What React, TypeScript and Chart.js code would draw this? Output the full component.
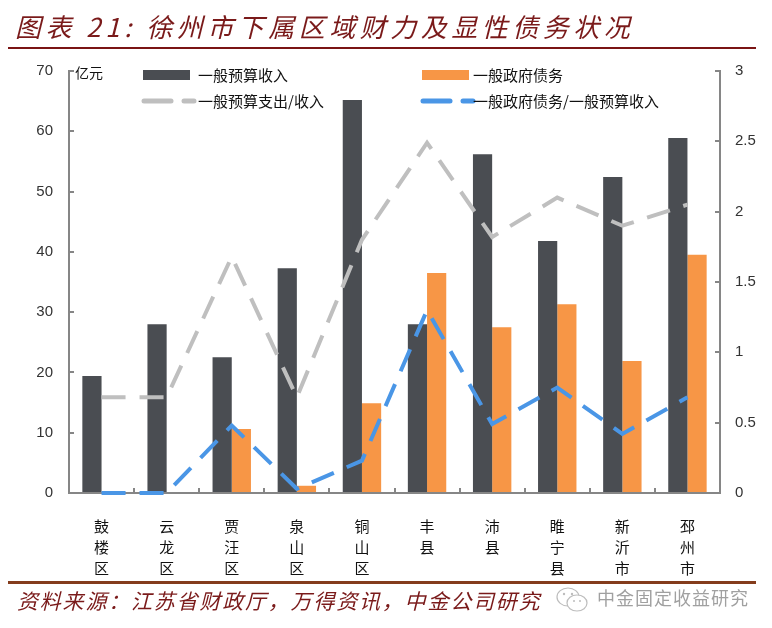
import React, { useEffect, useRef } from "react";
import { Chart, registerables } from "chart.js";

Chart.register(...registerables);

const categories = ["鼓楼区", "云龙区", "贾汪区", "泉山区", "铜山区", "丰县", "沛县", "睢宁县", "新沂市", "邳州市"];
const revenue = [19.4, 28.0, 22.5, 37.3, 65.2, 28.0, 56.2, 41.8, 52.4, 58.9];
const debt = [0, 0, 10.6, 1.2, 14.9, 36.5, 27.5, 31.3, 21.9, 39.5];
const expenditureRatio = [0.68, 0.68, 1.68, 0.68, 1.8, 2.49, 1.82, 2.1, 1.9, 2.05];
const debtRatio = [0, 0, 0.48, 0.03, 0.23, 1.3, 0.49, 0.75, 0.42, 0.68];
const leftTicks = [0, 10, 20, 30, 40, 50, 60, 70];
const rightTicks = [0, 0.5, 1, 1.5, 2, 2.5, 3];

const seriesNames = ["一般预算收入", "一般政府债务", "一般预算支出/收入", "一般政府债务/一般预算收入"];
const titleText = "图表 21: 徐州市下属区域财力及显性债务状况";
const sourceText = "资料来源：江苏省财政厅，万得资讯，中金公司研究";
const watermarkText = "中金固定收益研究";
const unitText = "亿元";

const DARK = "#4A4D52";
const ORANGE = "#F79646";
const GRAY = "#BFBFBF";
const BLUE = "#4A96E6";
const AXIS = "#868686";
const CJK = "'Noto Sans CJK SC', sans-serif";

export default function App() {
  const ref = useRef<HTMLCanvasElement>(null);

  useEffect(() => {
    if (!ref.current) return;
    const chart = new Chart(ref.current, {
      type: "bar",
      data: {
        labels: categories.map((c) => c.split("")),
        datasets: [
          {
            type: "line",
            label: seriesNames[2],
            data: expenditureRatio,
            borderColor: GRAY,
            borderWidth: 4,
            borderDash: [24, 14],
            pointRadius: 0,
            tension: 0,
            yAxisID: "y1",
            order: 0,
            clip: false,
          } as any,
          {
            type: "line",
            label: seriesNames[3],
            data: debtRatio,
            borderColor: BLUE,
            borderWidth: 4,
            borderDash: [24, 14],
            pointRadius: 0,
            tension: 0,
            yAxisID: "y1",
            order: 0,
            clip: false,
          } as any,
          {
            type: "bar",
            label: seriesNames[0],
            data: revenue,
            backgroundColor: DARK,
            yAxisID: "y",
            order: 1,
            categoryPercentage: 0.59,
            barPercentage: 1,
          },
          {
            type: "bar",
            label: seriesNames[1],
            data: debt,
            backgroundColor: ORANGE,
            yAxisID: "y",
            order: 1,
            categoryPercentage: 0.59,
            barPercentage: 1,
          },
        ],
      },
      options: {
        responsive: false,
        animation: false,
        devicePixelRatio: 1,
        layout: { padding: { top: 71, left: 0, right: 0, bottom: 0 } },
        plugins: { legend: { display: false }, tooltip: { enabled: false } },
        scales: {
          x: {
            grid: { drawOnChartArea: false, tickLength: -5, color: AXIS, lineWidth: 2, offset: true },
            border: { color: AXIS, width: 2 },
            ticks: {
              autoSkip: false,
              maxRotation: 0,
              minRotation: 0,
              padding: 28,
              color: "#111",
              font: { family: CJK, size: 15, lineHeight: "21px" as any },
            },
            afterFit: (s: any) => {
              s.height = 135;
            },
          },
          y: {
            position: "left",
            min: 0,
            max: 70,
            afterBuildTicks: (s: any) => {
              s.ticks = leftTicks.map((v) => ({ value: v }));
            },
            grid: { drawOnChartArea: false, tickLength: -5, color: AXIS, lineWidth: 2 },
            border: { color: AXIS, width: 2 },
            ticks: {
              padding: 21,
              color: "#333",
              font: { family: "'Liberation Sans', Arial, sans-serif", size: 15 },
            },
            afterFit: (s: any) => {
              s.width = 69;
            },
          },
          y1: {
            position: "right",
            min: 0,
            max: 3,
            afterBuildTicks: (s: any) => {
              s.ticks = rightTicks.map((v) => ({ value: v }));
            },
            grid: { drawOnChartArea: false, tickLength: -5, color: AXIS, lineWidth: 2 },
            border: { color: AXIS, width: 2 },
            ticks: {
              padding: 20,
              color: "#333",
              font: { family: "'Liberation Sans', Arial, sans-serif", size: 15 },
              callback: (v: any) => String(v),
            },
            afterFit: (s: any) => {
              s.width = 52;
            },
          },
        },
      },
    });
    return () => chart.destroy();
  }, []);

  const legendText: React.CSSProperties = {
    position: "absolute",
    fontFamily: CJK,
    fontSize: 15,
    color: "#111",
    lineHeight: "20px",
    whiteSpace: "nowrap",
  };

  return (
    <div style={{ position: "absolute", left: 0, top: 0, width: 772, height: 628, background: "#fff", overflow: "hidden" }}>
      <canvas ref={ref} width={772} height={628} style={{ position: "absolute", left: 0, top: 0, width: 772, height: 628 }} />
      <div
        style={{
          position: "absolute",
          left: 15,
          top: 8,
          fontFamily: CJK,
          fontSize: 26,
          fontStyle: "italic",
          letterSpacing: 4.5,
          color: "#7A1A1A",
          whiteSpace: "nowrap",
          lineHeight: "36px",
        }}
      >
        {titleText}
      </div>
      <div style={{ position: "absolute", left: 8, top: 47, width: 748, height: 2, background: "#7A1414" }} />
      <div style={{ ...legendText, left: 75, top: 62, fontSize: 14 }}>{unitText}</div>
      <div style={{ position: "absolute", left: 143, top: 70, width: 47, height: 10, background: DARK }} />
      <div style={{ ...legendText, left: 198, top: 65 }}>{seriesNames[0]}</div>
      <div style={{ position: "absolute", left: 422, top: 70, width: 47, height: 10, background: ORANGE }} />
      <div style={{ ...legendText, left: 473, top: 65 }}>{seriesNames[1]}</div>
      <svg style={{ position: "absolute", left: 140, top: 95 }} width={58} height={12}>
        <line x1={4} y1={6} x2={31} y2={6} stroke={GRAY} strokeWidth={5} strokeLinecap="round" />
        <line x1={44} y1={6} x2={54} y2={6} stroke={GRAY} strokeWidth={5} strokeLinecap="round" />
      </svg>
      <div style={{ ...legendText, left: 198, top: 91 }}>{seriesNames[2]}</div>
      <svg style={{ position: "absolute", left: 419, top: 95 }} width={58} height={12}>
        <line x1={4} y1={6} x2={31} y2={6} stroke={BLUE} strokeWidth={5} strokeLinecap="round" />
        <line x1={44} y1={6} x2={54} y2={6} stroke={BLUE} strokeWidth={5} strokeLinecap="round" />
      </svg>
      <div style={{ ...legendText, left: 473, top: 91 }}>{seriesNames[3]}</div>
      <div style={{ position: "absolute", left: 8, top: 581, width: 748, height: 3, background: "#843C1C" }} />
      <div
        style={{
          position: "absolute",
          left: 17,
          top: 586,
          fontFamily: CJK,
          fontSize: 21,
          fontStyle: "italic",
          letterSpacing: 1.8,
          color: "#7A1A1A",
          whiteSpace: "nowrap",
          lineHeight: "28px",
        }}
      >
        {sourceText}
      </div>
      <svg style={{ position: "absolute", left: 553, top: 584 }} width={40} height={32}>
        <ellipse cx={15} cy={13} rx={11} ry={9} fill="none" stroke="#BDBDBD" strokeWidth={1.2} />
        <ellipse cx={24} cy={19} rx={10} ry={8} fill="#fff" stroke="#BDBDBD" strokeWidth={1.2} />
        <circle cx={11} cy={10} r={1.2} fill="#BDBDBD" />
        <circle cx={19} cy={10} r={1.2} fill="#BDBDBD" />
        <circle cx={21} cy={17} r={1} fill="#BDBDBD" />
        <circle cx={27} cy={17} r={1} fill="#BDBDBD" />
      </svg>
      <div
        style={{
          position: "absolute",
          left: 597,
          top: 585,
          fontFamily: CJK,
          fontSize: 18,
          color: "#A0A0A0",
          whiteSpace: "nowrap",
          lineHeight: "24px",
          letterSpacing: 1,
        }}
      >
        {watermarkText}
      </div>
    </div>
  );
}
